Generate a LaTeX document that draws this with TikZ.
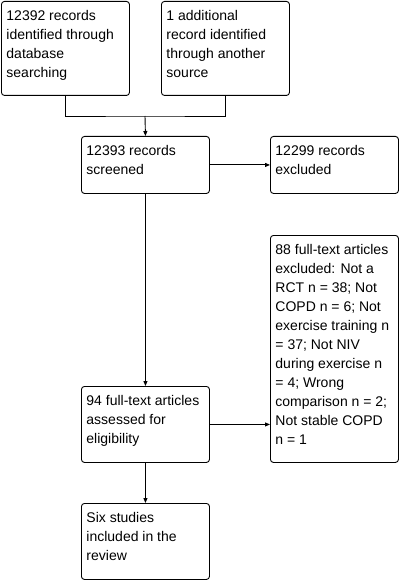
\documentclass[tikz,border=0pt]{standalone}
\usepackage{fontspec}
\setmainfont{Liberation Sans}
\usetikzlibrary{arrows.meta}
\tikzset{
  flowbox/.style={draw, rounded corners=3pt, inner xsep=5pt, inner ysep=0pt, anchor=north west,
    line width=0.9pt, font=\fontsize{14pt}{19pt}\selectfont},
  flowline/.style={line width=0.9pt},
  flowarr/.style={flowline, -{Triangle[length=5pt,width=4pt]}}
}
\newcommand{\boxtext}[2]{\parbox[c][#1][t]{118pt}{\raggedright\rule{0pt}{19pt}#2}}

\begin{document}
\begin{tikzpicture}[x=1pt,y=-1pt]
\useasboundingbox (0,0) rectangle (402,580);
\node[flowbox] (ident) at (1,1) {\boxtext{94pt}{12392 records\\identified through\\database\\searching}};
\node[flowbox] (other) at (161,1) {\boxtext{94pt}{1 additional\\record identified\\through another\\source}};
\node[flowbox] (screen) at (81,136) {\boxtext{57pt}{12393 records\\screened}};
\node[flowbox] (excl) at (270,136) {\boxtext{57pt}{12299 records\\excluded}};
\node[flowbox] (fullexcl) at (270,235) {\boxtext{227pt}{88 full-text articles\\excluded: Not a\\RCT n = 38; Not\\COPD n = 6; Not\\exercise training n\\= 37; Not NIV\\during exercise n\\= 4; Wrong\\comparison n = 2;\\Not stable COPD\\n = 1}};
\node[flowbox] (full) at (81,386) {\boxtext{76pt}{94 full-text articles\\assessed for\\eligibility}};
\node[flowbox] (incl) at (81,503) {\boxtext{76pt}{Six studies\\included in the\\review}};
\coordinate (join) at (145,116);
\draw[flowline] (ident.south) |- (join) -| (other.south);
\draw[flowarr] (join) -- (screen.north);
\draw[flowarr] (screen.east) -- (excl.west);
\draw[flowarr] (screen.south) -- (full.north);
\draw[flowarr] (full.east) -- (full.east -| fullexcl.west);
\draw[flowarr] (full.south) -- (incl.north);
\end{tikzpicture}
\end{document}
